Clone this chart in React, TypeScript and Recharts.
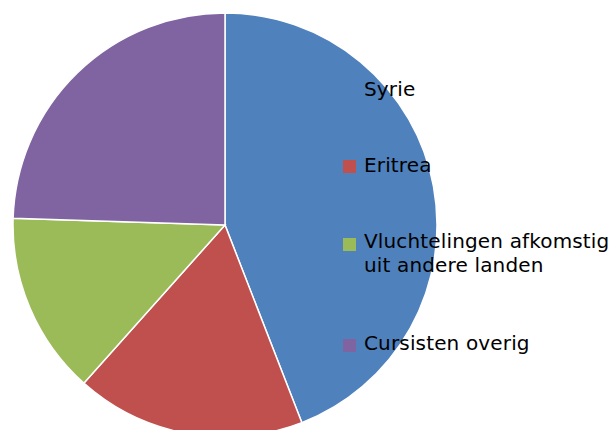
import { PieChart, Pie, Cell, Legend } from 'recharts';

const CATEGORIES = ['Syrie', 'Eritrea', 'Vluchtelingen afkomstig uit andere landen', 'Cursisten overig'];
const VALUES = [44.1, 17.5, 13.9, 24.5];
const COLORS = ['#4F81BD', '#C0504D', '#9BBB59', '#8064A2'];

const data = CATEGORIES.map((name, i) => ({ name, value: VALUES[i] }));

// legend rows (top of text line, top of marker)
const ROW_TOPS = [77, 153, 229, 331];
const MARKER_TOPS = [83, 160, 238, 339];

const renderLegend = () => (
  <div style={{ position: 'relative', width: 614, height: 430, fontFamily: '"DejaVu Sans", sans-serif', fontSize: 20, letterSpacing: 0.15, lineHeight: '24px', color: '#000' }}>
    {data.map((d, i) => (
      <div key={d.name}>
        <div style={{ position: 'absolute', left: 343, top: MARKER_TOPS[i], width: 13, height: 13, background: COLORS[i] }} />
        <div style={{ position: 'absolute', left: 364, top: ROW_TOPS[i], width: 250 }}>{d.name}</div>
      </div>
    ))}
  </div>
);

export default function App() {
  return (
    <div style={{ position: 'fixed', left: 0, top: 0, width: 614, height: 430, background: '#fff' }}>
      <PieChart width={614} height={430} margin={{ top: 0, right: 0, bottom: 0, left: 0 }}>
        <Pie
          data={data}
          dataKey="value"
          nameKey="name"
          cx={225}
          cy={225}
          outerRadius={212}
          startAngle={90}
          endAngle={-270}
          stroke="#fff"
          strokeWidth={1.5}
          isAnimationActive={false}
        >
          {data.map((d, i) => (
            <Cell key={d.name} fill={COLORS[i]} />
          ))}
        </Pie>
        <Legend content={renderLegend} wrapperStyle={{ left: 0, top: 0, width: 614, height: 430 }} />
      </PieChart>
    </div>
  );
}
